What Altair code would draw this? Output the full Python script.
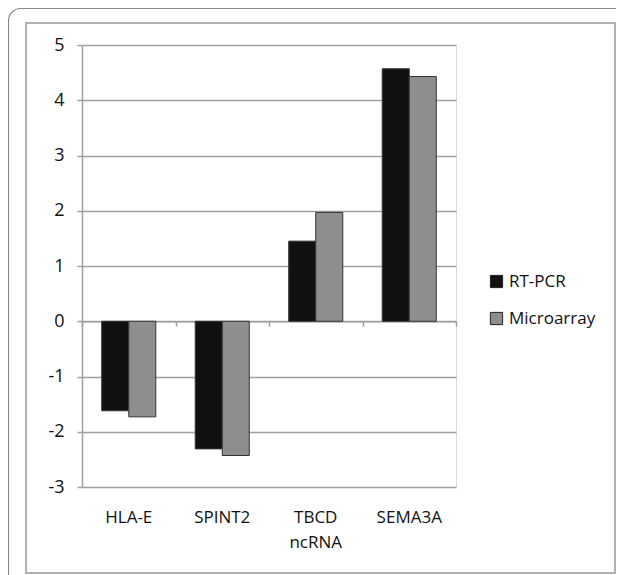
import altair as alt
import pandas as pd

genes = ["HLA-E", "SPINT2", "TBCD ncRNA", "SEMA3A"]
series = ["RT-PCR", "Microarray"]
rt_pcr = [-1.62, -2.31, 1.45, 4.57]
microarray = [-1.73, -2.43, 1.97, 4.43]
y_ticks = [-3, -2, -1, 0, 1, 2, 3, 4, 5]

rows = []
for g, a, b in zip(genes, rt_pcr, microarray):
    rows.append({"gene": g, "series": "RT-PCR", "value": a})
    rows.append({"gene": g, "series": "Microarray", "value": b})
df = pd.DataFrame(rows)

FONT = "Open Sans"
GRID = "#a0a0a0"

W, H = 374, 442

x_scale = alt.Scale(domain=genes, paddingInner=0, paddingOuter=0)
y_scale = alt.Scale(domain=[-3, 5], nice=False, zero=False)

bars = alt.Chart(df).mark_bar(stroke="#333333", strokeWidth=1).encode(
    x=alt.X("gene:N", scale=x_scale, sort=genes, title=None,
            axis=alt.Axis(orient="bottom", domain=False, ticks=False, tickSize=0,
                          labelAngle=0, labelFont=FONT, labelFontSize=17,
                          labelColor="#111111", labelPadding=22,
                          labelExpr="split(datum.label, ' ')", labelLineHeight=25,
                          labelBaseline="top", grid=False)),
    xOffset=alt.XOffset("series:N", sort=series,
                        scale=alt.Scale(domain=series, paddingInner=0, paddingOuter=0.73)),
    y=alt.Y("value:Q", scale=y_scale, title=None,
            axis=alt.Axis(values=y_ticks, grid=True, gridColor=GRID, gridWidth=1.5,
                          domainColor=GRID, domainWidth=1.5, tickColor=GRID, tickWidth=1.5,
                          tickSize=5, labelFont=FONT, labelFontSize=18,
                          labelExpr="'' + datum.value",
                          labelColor="#111111", labelPadding=13)),
    color=alt.Color("series:N", sort=series,
                    scale=alt.Scale(domain=series, range=["#111111", "#8e8e8e"]),
                    legend=alt.Legend(title=None, orient="none", legendX=406, legendY=228,
                                      symbolType="square", symbolSize=150,
                                      symbolStrokeColor="#222222", symbolStrokeWidth=1,
                                      labelFont=FONT, labelFontSize=17, labelColor="#111111",
                                      rowPadding=19, labelOffset=4)),
)

zero_axis = alt.Chart(df).mark_tick(opacity=0).encode(
    x=alt.X("gene:N", scale=x_scale, sort=genes, title=None,
            axis=alt.Axis(orient="bottom", offset=-(3 * H / 8), labels=False,
                          tickBand="extent", domain=True, domainColor=GRID, domainWidth=1.5,
                          ticks=True, tickColor=GRID, tickWidth=1.5, tickSize=5, grid=False)),
)

frame_df = pd.DataFrame({"k": [0]})
outer = alt.Chart(frame_df).mark_rect(fillOpacity=0, stroke="#8a8a8a", strokeWidth=1.2,
                                       cornerRadius=12).encode(
    x=alt.value(-73.5), x2=alt.value(700), y=alt.value(-36.5), y2=alt.value(700))
inner = alt.Chart(frame_df).mark_rect(fillOpacity=0, stroke="#b0b0b0", strokeWidth=2).encode(
    x=alt.value(-56), x2=alt.value(533), y=alt.value(-22), y2=alt.value(528))

chart = alt.layer(outer, inner, bars, zero_axis).resolve_axis(x="independent").properties(
    width=W, height=H,
    padding={"left": 74, "top": 37, "right": 160, "bottom": 88},
    autosize=alt.AutoSizeParams(type="none"),
).configure_view(stroke=None).configure(background="white")

chart.save("out.html", embed_options={"renderer": "svg", "actions": False})
